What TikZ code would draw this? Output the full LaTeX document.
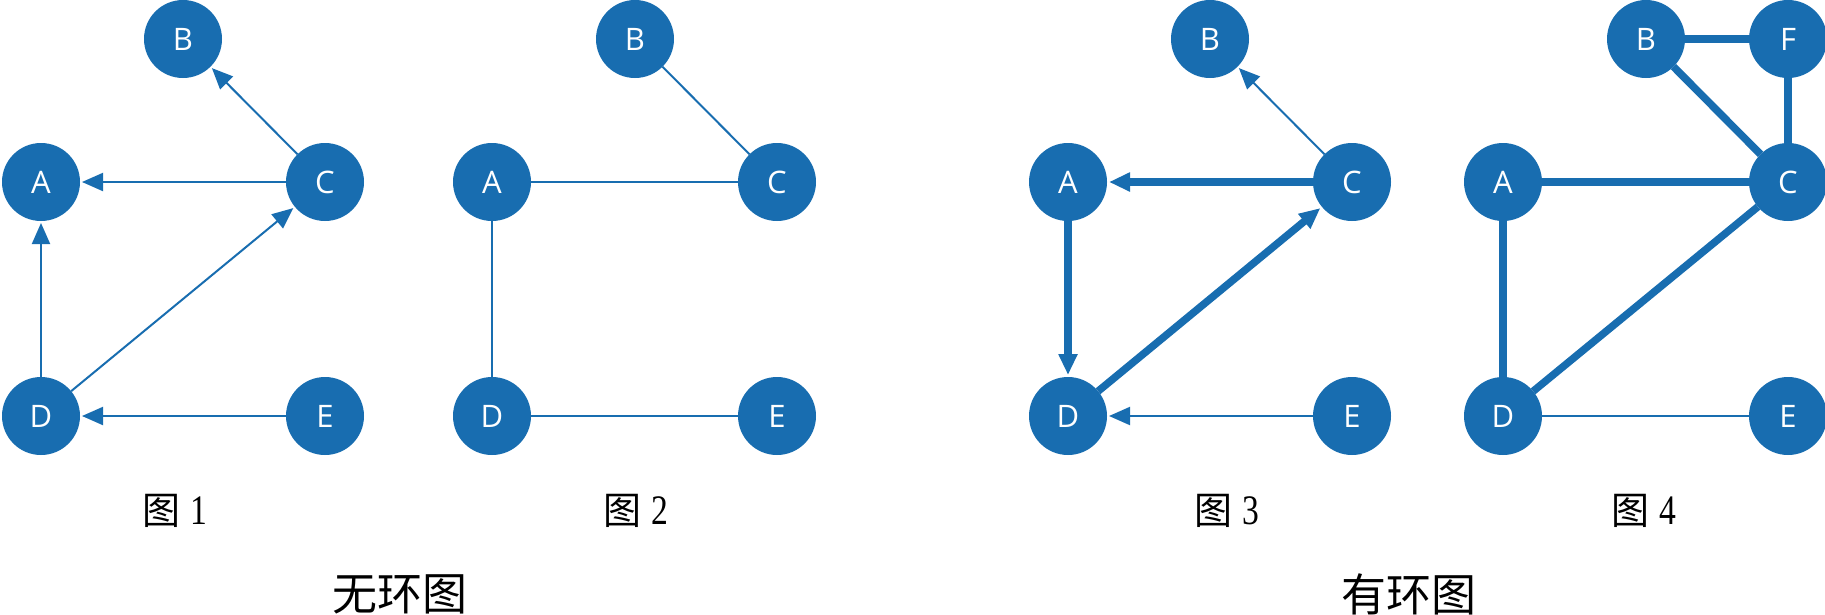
\documentclass[tikz,border=0pt]{standalone}
\usepackage{fontspec}
\setmainfont{Liberation Serif}
\newfontfamily\cjk{Noto Sans CJK SC}
\newfontfamily\vtxfont{Open Sans}
\usetikzlibrary{arrows.meta}
\definecolor{nodeblue}{RGB}{24,109,176}
\newcommand{\figlab}[1]{{\cjk\fontsize{38}{38}\selectfont 图}\hspace{10pt}\scalebox{0.8}[1]{#1}}
\begin{document}
\begin{tikzpicture}[x=1pt,y=-1pt,
  vtx/.style={circle, fill=nodeblue, minimum size=78pt, inner sep=0pt, outer sep=0pt, text=white, font=\vtxfont\fontsize{31}{31}\selectfont},
  thinedge/.style={draw=nodeblue, line width=2pt},
  thickedge/.style={draw=nodeblue, line width=7.5pt},
  arr/.style={-{Triangle[length=21pt,width=18pt]}, shorten >=2pt},
  figcaption/.style={anchor=west, inner sep=0pt, font=\fontsize{42}{42}\selectfont},
  figtitle/.style={inner sep=0pt, font=\cjk\fontsize{45}{45}\selectfont}]
\useasboundingbox (0,0) rectangle (1825,614);
% Figure 1
\node[vtx] (b1) at (183,39) {B};
\node[vtx] (a1) at (41,182) {A};
\node[vtx] (c1) at (325,182) {C};
\node[vtx] (d1) at (41,416) {D};
\node[vtx] (e1) at (325,416) {E};
\draw[thinedge,arr] (c1) -- (b1);
\draw[thinedge,arr] (c1) -- (a1);
\draw[thinedge,arr] (d1) -- (a1);
\draw[thinedge,arr] (d1) -- (c1);
\draw[thinedge,arr] (e1) -- (d1);
% Figure 2
\node[vtx] (b2) at (635,39) {B};
\node[vtx] (a2) at (492,182) {A};
\node[vtx] (c2) at (777,182) {C};
\node[vtx] (d2) at (492,416) {D};
\node[vtx] (e2) at (777,416) {E};
\draw[thinedge] (c2) -- (b2);
\draw[thinedge] (c2) -- (a2);
\draw[thinedge] (a2) -- (d2);
\draw[thinedge] (d2) -- (e2);
% Figure 3
\node[vtx] (b3) at (1210,39) {B};
\node[vtx] (a3) at (1068,182) {A};
\node[vtx] (c3) at (1352,182) {C};
\node[vtx] (d3) at (1068,416) {D};
\node[vtx] (e3) at (1352,416) {E};
\draw[thinedge,arr] (c3) -- (b3);
\draw[thickedge,arr] (c3) -- (a3);
\draw[thickedge,arr] (a3) -- (d3);
\draw[thickedge,arr] (d3) -- (c3);
\draw[thinedge,arr] (e3) -- (d3);
% Figure 4
\node[vtx] (b4) at (1646,39) {B};
\node[vtx] (f4) at (1788,39) {F};
\node[vtx] (a4) at (1503,182) {A};
\node[vtx] (c4) at (1788,182) {C};
\node[vtx] (d4) at (1503,416) {D};
\node[vtx] (e4) at (1788,416) {E};
\draw[thickedge] (b4) -- (f4);
\draw[thickedge] (b4) -- (c4);
\draw[thickedge] (f4) -- (c4);
\draw[thickedge] (a4) -- (c4);
\draw[thickedge] (a4) -- (d4);
\draw[thickedge] (d4) -- (c4);
\draw[thinedge] (d4) -- (e4);
% Captions
\node[figcaption] (l1) at (142,511) {\figlab{1}};
\node[figcaption] (l2) at (603,511) {\figlab{2}};
\node[figcaption] (l3) at (1194,511) {\figlab{3}};
\node[figcaption] (l4) at (1611,511) {\figlab{4}};
\node[figtitle] (t1) at (400,594) {无环图};
\node[figtitle] (t2) at (1409,594) {有环图};
\end{tikzpicture}
\end{document}
